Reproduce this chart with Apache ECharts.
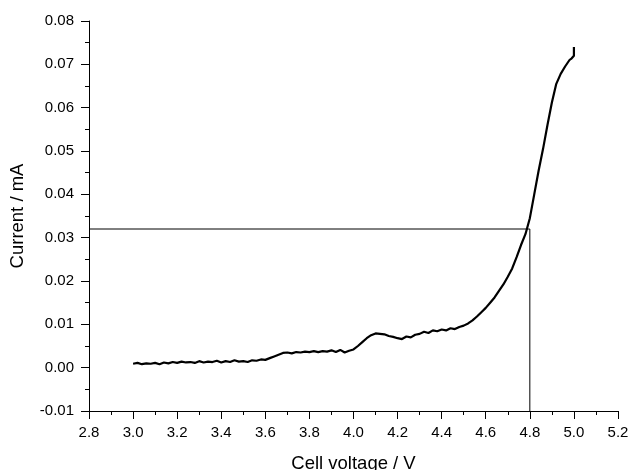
<!DOCTYPE html>
<html>
<head>
<meta charset="utf-8">
<script src="https://cdn.jsdelivr.net/npm/echarts@6/dist/echarts.min.js"></script>
<style>html,body{margin:0;padding:0;background:#fff}#c{width:629px;height:470px}</style>
</head>
<body>
<div id="c"></div>
<script>
var voltage = [3.00,3.02,3.04,3.06,3.08,3.10,3.12,3.14,3.16,3.18,3.20,3.22,3.24,3.26,3.28,3.30,3.32,3.34,3.36,3.38,3.40,3.42,3.44,3.46,3.48,3.50,3.52,3.54,3.56,3.58,3.60,3.62,3.64,3.66,3.68,3.70,3.72,3.74,3.76,3.78,3.80,3.82,3.84,3.86,3.88,3.90,3.92,3.94,3.96,3.98,4.00,4.02,4.04,4.06,4.08,4.10,4.12,4.14,4.16,4.18,4.20,4.22,4.24,4.26,4.28,4.30,4.32,4.34,4.36,4.38,4.40,4.42,4.44,4.46,4.48,4.50,4.52,4.54,4.56,4.58,4.60,4.62,4.64,4.66,4.68,4.70,4.72,4.74,4.76,4.78,4.80,4.82,4.84,4.86,4.88,4.90,4.92,4.94,4.96,4.98,4.99,5.00,5.00];
var current = [0.0009,0.0011,0.0008,0.0010,0.0009,0.0011,0.0008,0.0012,0.0010,0.0013,0.0011,0.0014,0.0012,0.0013,0.0011,0.0015,0.0012,0.0014,0.0013,0.0016,0.0012,0.0015,0.0013,0.0017,0.0014,0.0015,0.0013,0.0017,0.0016,0.0019,0.0018,0.0022,0.0026,0.0030,0.0034,0.0035,0.0033,0.0036,0.0035,0.0037,0.0036,0.0038,0.0036,0.0038,0.0037,0.0040,0.0036,0.0041,0.0035,0.0039,0.0042,0.0050,0.0059,0.0068,0.0075,0.0079,0.0078,0.0077,0.0073,0.0071,0.0068,0.0066,0.0072,0.0070,0.0076,0.0078,0.0083,0.0080,0.0086,0.0084,0.0088,0.0086,0.0091,0.0089,0.0094,0.0097,0.0102,0.0109,0.0118,0.0128,0.0138,0.0150,0.0162,0.0177,0.0192,0.0210,0.0229,0.0255,0.0283,0.0308,0.0345,0.0400,0.0455,0.0505,0.0560,0.0612,0.0655,0.0678,0.0695,0.0710,0.0714,0.0720,0.0740];
var guideVoltage = [2.8, 4.8, 4.8];
var guideCurrent = [0.032, 0.032, -0.01];

var curveData = voltage.map(function(v,i){return [v, current[i]];});
var guideData = guideVoltage.map(function(v,i){return [v, guideCurrent[i]];});

var chart = echarts.init(document.getElementById('c'), null, {renderer:'canvas'});
var font = 'Liberation Sans, Arial, sans-serif';
chart.setOption({
  animation:false,
  backgroundColor:'#fff',
  grid:{left:89, right:11, top:21, bottom:59, containLabel:false, outerBoundsMode:'none'},
  xAxis:{
    type:'value', min:2.8, max:5.2, interval:0.2,
    name:'Cell voltage / V', nameLocation:'middle', nameGap:43,
    nameTextStyle:{color:'#000', fontSize:18.5, fontFamily:font},
    axisLine:{show:true, onZero:false, lineStyle:{color:'#000', width:1}},
    axisTick:{show:true, inside:false, length:8, lineStyle:{color:'#000'}},
    minorTick:{show:true, splitNumber:2, length:4, lineStyle:{color:'#000'}},
    splitLine:{show:false},
    axisLabel:{color:'#000', fontSize:15, fontFamily:font, margin:14, formatter:function(v){return v.toFixed(1);}}
  },
  yAxis:{
    type:'value', min:-0.01, max:0.08, interval:0.01,
    name:'Current / mA', nameLocation:'middle', nameGap:62, nameRotate:90,
    nameTextStyle:{color:'#000', fontSize:18.5, fontFamily:font},
    axisLine:{show:true, onZero:false, lineStyle:{color:'#000', width:1}},
    axisTick:{show:true, inside:false, length:8, lineStyle:{color:'#000'}},
    minorTick:{show:true, splitNumber:2, length:4, lineStyle:{color:'#000'}},
    splitLine:{show:false},
    axisLabel:{color:'#000', fontSize:15, fontFamily:font, margin:15, formatter:function(v){return v.toFixed(2);}}
  },
  series:[
    {type:'line', data:guideData, symbol:'none', lineStyle:{color:'#000', width:1}, z:1},
    {type:'line', data:curveData, symbol:'none', lineStyle:{color:'#000', width:2.2}, z:2}
  ]
});
</script>
</body>
</html>
